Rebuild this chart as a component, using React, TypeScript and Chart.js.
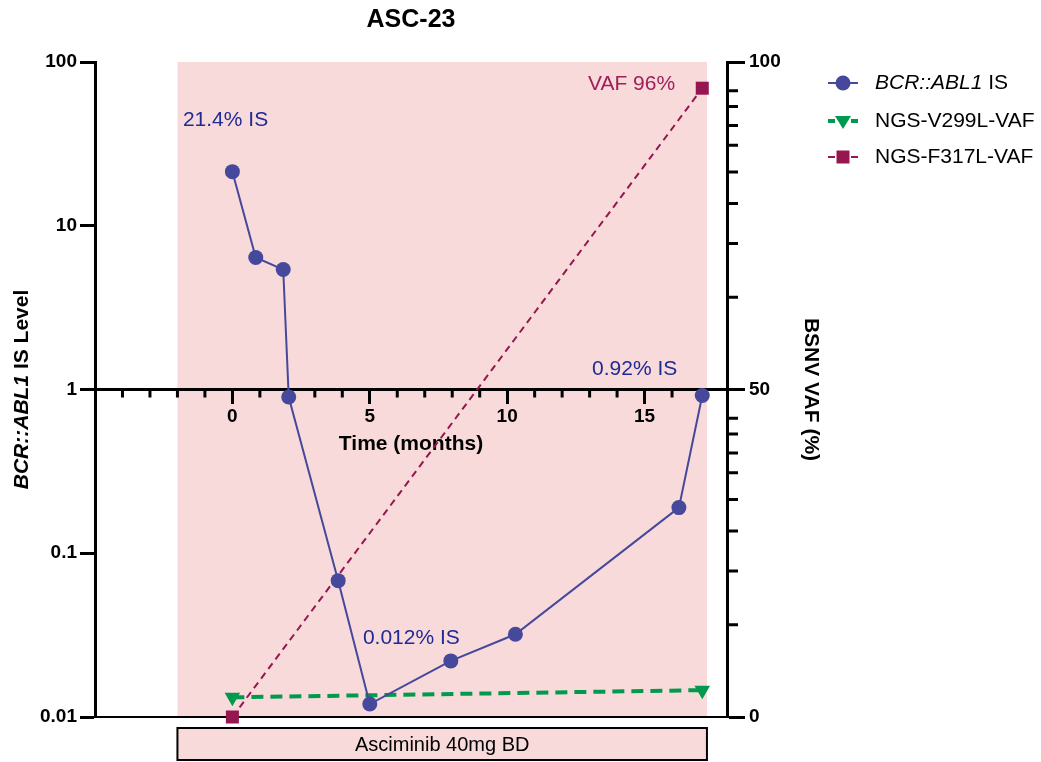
import React, { useEffect, useRef } from 'react';
import { Chart, registerables } from 'chart.js';

Chart.register(...registerables);

const FONT = '"Liberation Sans", Arial, Helvetica, sans-serif';

// ---- data ----
const isMonths = [0, 0.85, 1.85, 2.05, 3.85, 5.0, 7.95, 10.3, 16.25, 17.1];
const isLevels = [21.4, 6.4, 5.4, 0.9, 0.068, 0.012, 0.022, 0.032, 0.19, 0.92];
const v299lMonths = [0, 17.1];
const v299lVaf = [3.0, 4.1];
const f317lMonths = [0, 17.1];
const f317lVaf = [0, 96];

const xRange = [-5, 18];
const xLabelTicks = [0, 5, 10, 15];
const xMinorTicks = [-4, -3, -2, -1, 1, 2, 3, 4, 6, 7, 8, 9, 11, 12, 13, 14, 16, 17];
const leftTicks = [0.01, 0.1, 1, 10, 100];
const rightMajorTicks = [0, 50, 100];
const rightMinorTicks = [14.1, 22.3, 28.4, 33.2, 37.3, 40.3, 43.2, 45.6, 64.1, 72.3, 78.4, 83.2, 87.3, 90.3, 93.2, 95.6];

const treatmentSpan = [-2, 17.27];
const treatmentLabel = 'Asciminib 40mg BD';

const noteTexts = ['21.4% IS', '0.92% IS', '0.012% IS', 'VAF 96%'];
const noteMonths = [-1.8, 13.09, 4.75, 12.94];
const noteValues = [44.3, 1.33, 0.0304, 96.6];
const noteAxes = ['y', 'y', 'y', 'y2'];
const noteColors = ['#1E2A96', '#1E2A96', '#1E2A96', '#9E1F5A'];

const BLUE = '#45489B';
const GREEN = '#009A4E';
const MAROON = '#961650';
const PINK = '#F8DADA';

function drawMarker(ctx: CanvasRenderingContext2D, kind: string, x: number, y: number, color: string) {
  ctx.save();
  ctx.fillStyle = color;
  ctx.beginPath();
  if (kind === 'circle') {
    ctx.arc(x, y, 7.5, 0, Math.PI * 2);
  } else if (kind === 'tri') {
    ctx.moveTo(x - 8, y - 5);
    ctx.lineTo(x + 8, y - 5);
    ctx.lineTo(x, y + 8);
    ctx.closePath();
  } else {
    ctx.rect(x - 6.5, y - 6.5, 13, 13);
  }
  ctx.fill();
  ctx.restore();
}

const decorPlugin = {
  id: 'decor',
  beforeDraw(chart: any) {
    const { ctx, chartArea, scales } = chart;
    const x0 = scales.x.getPixelForValue(treatmentSpan[0]);
    const x1 = scales.x.getPixelForValue(treatmentSpan[1]);
    ctx.save();
    ctx.fillStyle = PINK;
    ctx.fillRect(x0, chartArea.top, x1 - x0, chartArea.bottom - chartArea.top);
    ctx.restore();
  },
  beforeDatasetsDraw(chart: any) {
    const { ctx, scales } = chart;
    const axisY = scales.y.getPixelForValue(1);
    ctx.save();
    ctx.strokeStyle = '#000';
    ctx.lineWidth = 3;
    ctx.beginPath();
    xMinorTicks.forEach((v) => {
      const px = scales.x.getPixelForValue(v);
      ctx.moveTo(px, axisY);
      ctx.lineTo(px, axisY + 8);
    });
    const rx = scales.y2.left;
    rightMinorTicks.forEach((v) => {
      const py = scales.y2.getPixelForValue(v);
      ctx.moveTo(rx, py);
      ctx.lineTo(rx + 11, py);
    });
    ctx.stroke();
    ctx.restore();
  },
  afterDatasetsDraw(chart: any) {
    const { ctx, scales } = chart;
    ctx.save();
    ctx.font = `21px ${FONT}`;
    ctx.textAlign = 'left';
    ctx.textBaseline = 'middle';
    noteTexts.forEach((t, i) => {
      ctx.fillStyle = noteColors[i];
      const px = scales.x.getPixelForValue(noteMonths[i]);
      const py = scales[noteAxes[i]].getPixelForValue(noteValues[i]);
      ctx.fillText(t, px, py);
    });
    ctx.restore();
  },
  afterDraw(chart: any) {
    const { ctx, chartArea, scales } = chart;
    // left axis title with italic gene name
    ctx.save();
    ctx.translate(22, (chartArea.top + chartArea.bottom) / 2);
    ctx.rotate(-Math.PI / 2);
    ctx.textBaseline = 'middle';
    ctx.textAlign = 'left';
    ctx.fillStyle = '#000';
    ctx.font = `italic bold 21px ${FONT}`;
    const p1 = 'BCR::ABL1';
    const w1 = ctx.measureText(p1).width;
    ctx.font = `bold 21px ${FONT}`;
    const p2 = ' IS Level';
    const w2 = ctx.measureText(p2).width;
    let sx = -(w1 + w2) / 2;
    ctx.font = `italic bold 21px ${FONT}`;
    ctx.fillText(p1, sx, 0);
    ctx.font = `bold 21px ${FONT}`;
    ctx.fillText(p2, sx + w1, 0);
    ctx.restore();

    // treatment box
    const x0 = scales.x.getPixelForValue(treatmentSpan[0]);
    const x1 = scales.x.getPixelForValue(treatmentSpan[1]);
    const by0 = chartArea.bottom + 11;
    const by1 = chartArea.bottom + 43;
    ctx.save();
    ctx.fillStyle = PINK;
    ctx.fillRect(x0, by0, x1 - x0, by1 - by0);
    ctx.strokeStyle = '#000';
    ctx.lineWidth = 2;
    ctx.strokeRect(x0, by0, x1 - x0, by1 - by0);
    ctx.fillStyle = '#000';
    ctx.font = `20px ${FONT}`;
    ctx.textAlign = 'center';
    ctx.textBaseline = 'middle';
    ctx.fillText(treatmentLabel, (x0 + x1) / 2, (by0 + by1) / 2 + 1);
    ctx.restore();

    // legend
    const ds = chart.data.datasets;
    const rows = [83, 121, 157];
    const kinds = ['circle', 'tri', 'rect'];
    const lx0 = 828, lx1 = 858, mx = 843, tx = 875;
    ctx.save();
    rows.forEach((ry, i) => {
      const d = ds[i];
      ctx.strokeStyle = d.borderColor;
      ctx.lineWidth = d.borderWidth;
      ctx.setLineDash(d.borderDash || []);
      ctx.beginPath();
      if (i === 0) {
        ctx.moveTo(lx0, ry);
        ctx.lineTo(lx1, ry);
      } else {
        ctx.moveTo(lx0, ry);
        ctx.lineTo(lx0 + 7, ry);
        ctx.moveTo(lx1 - 7, ry);
        ctx.lineTo(lx1, ry);
      }
      ctx.stroke();
      ctx.setLineDash([]);
      drawMarker(ctx, kinds[i], mx, ry, d.borderColor);
      ctx.fillStyle = '#000';
      ctx.textBaseline = 'middle';
      ctx.textAlign = 'left';
      if (i === 0) {
        ctx.font = `italic 21px ${FONT}`;
        ctx.fillText('BCR::ABL1', tx, ry);
        const w = ctx.measureText('BCR::ABL1').width;
        ctx.font = `21px ${FONT}`;
        ctx.fillText(' IS', tx + w, ry);
      } else {
        ctx.font = `21px ${FONT}`;
        ctx.fillText(d.label, tx, ry);
      }
    });
    ctx.restore();
  },
};

export default function App() {
  const canvasRef = useRef<HTMLCanvasElement | null>(null);

  useEffect(() => {
    const canvas = canvasRef.current;
    if (!canvas) return;
    const tickFont = { family: FONT, size: 19, weight: 'bold' as const };
    const chart = new Chart(canvas, {
      type: 'line',
      data: {
        datasets: [
          {
            label: 'BCR::ABL1 IS',
            data: isMonths.map((m, i) => ({ x: m, y: isLevels[i] })),
            yAxisID: 'y',
            xAxisID: 'x',
            borderColor: BLUE,
            backgroundColor: BLUE,
            borderWidth: 2,
            pointStyle: 'circle',
            pointRadius: 7.5,
            pointBorderWidth: 0,
            pointBackgroundColor: BLUE,
            clip: false,
          },
          {
            label: 'NGS-V299L-VAF',
            data: v299lMonths.map((m, i) => ({ x: m, y: v299lVaf[i] })),
            yAxisID: 'y2',
            xAxisID: 'x',
            borderColor: GREEN,
            backgroundColor: GREEN,
            borderWidth: 4,
            borderDash: [12, 7],
            pointStyle: 'triangle',
            pointRotation: 180,
            pointRadius: 9,
            pointBorderWidth: 0,
            pointBackgroundColor: GREEN,
            clip: false,
          },
          {
            label: 'NGS-F317L-VAF',
            data: f317lMonths.map((m, i) => ({ x: m, y: f317lVaf[i] })),
            yAxisID: 'y2',
            xAxisID: 'x',
            borderColor: MAROON,
            backgroundColor: MAROON,
            borderWidth: 2,
            borderDash: [7, 5],
            pointStyle: 'rect',
            pointRadius: 9.2,
            pointBorderWidth: 0,
            pointBackgroundColor: MAROON,
            clip: false,
          },
        ] as any,
      },
      options: {
        animation: false,
        responsive: false,
        maintainAspectRatio: false,
        layout: { padding: { left: 0, right: 218, top: 0, bottom: 45 } },
        plugins: {
          legend: { display: false },
          tooltip: { enabled: false },
          title: {
            display: true,
            text: 'ASC-23',
            fullSize: false,
            color: '#000',
            font: { family: FONT, size: 25, weight: 'bold' },
            padding: { top: 5, bottom: 27 },
          },
        },
        scales: {
          x: {
            type: 'linear',
            min: xRange[0],
            max: xRange[1],
            position: { y: 1 } as any,
            ticks: {
              stepSize: 1,
              autoSkip: false,
              maxRotation: 0,
              color: '#000',
              font: tickFont,
              padding: 3,
              callback: (v: any) => (xLabelTicks.includes(Number(v)) ? String(v) : ''),
            },
            grid: {
              drawOnChartArea: false,
              drawTicks: true,
              tickLength: 13,
              tickWidth: 3,
              tickColor: (c: any) => (xLabelTicks.includes(c.tick?.value) ? '#000' : 'rgba(0,0,0,0)'),
            },
            border: { display: true, color: '#000', width: 3 },
            title: {
              display: true,
              text: 'Time (months)',
              color: '#000',
              font: { family: FONT, size: 21, weight: 'bold' },
              padding: { top: 0, bottom: 0 },
            },
          },
          xb: {
            type: 'linear',
            min: xRange[0],
            max: xRange[1],
            position: 'bottom',
            ticks: { display: false },
            grid: { drawOnChartArea: false, drawTicks: false },
            border: { display: true, color: '#000', width: 2 },
            afterFit: (s: any) => {
              s.height = 0;
            },
          },
          y: {
            type: 'logarithmic',
            position: 'left',
            min: 0.01,
            max: 100,
            afterBuildTicks: (s: any) => {
              s.ticks = leftTicks.map((v) => ({ value: v }));
            },
            afterFit: (s: any) => {
              s.width = 95;
            },
            ticks: {
              autoSkip: false,
              color: '#000',
              font: tickFont,
              padding: 3,
              callback: (v: any) => String(v),
            },
            grid: { drawOnChartArea: false, tickLength: 15, tickWidth: 3, tickColor: '#000' },
            border: { display: true, color: '#000', width: 3 },
          },
          y2: {
            type: 'linear',
            position: 'right',
            min: 0,
            max: 100,
            afterBuildTicks: (s: any) => {
              s.ticks = [...rightMajorTicks, ...rightMinorTicks].sort((a, b) => a - b).map((v) => ({ value: v }));
            },
            afterFit: (s: any) => {
              s.width = 96;
            },
            ticks: {
              autoSkip: false,
              color: '#000',
              font: tickFont,
              padding: 4,
              callback: (v: any) => (rightMajorTicks.includes(Number(v)) ? String(v) : ''),
            },
            grid: {
              drawOnChartArea: false,
              tickLength: 18,
              tickWidth: 3,
              tickColor: (c: any) => (rightMajorTicks.includes(c.tick?.value) ? '#000' : 'rgba(0,0,0,0)'),
            },
            border: { display: true, color: '#000', width: 3 },
            title: {
              display: true,
              text: 'BSNV VAF (%)',
              color: '#000',
              font: { family: FONT, size: 21, weight: 'bold' },
              padding: 0,
            },
          },
        },
      } as any,
      plugins: [decorPlugin],
    });
    return () => chart.destroy();
  }, []);

  return (
    <div style={{ position: 'absolute', left: 0, top: 0, width: 1041, height: 762, background: '#fff' }}>
      <canvas ref={canvasRef} width={1041} height={762} style={{ display: 'block' }} />
    </div>
  );
}
